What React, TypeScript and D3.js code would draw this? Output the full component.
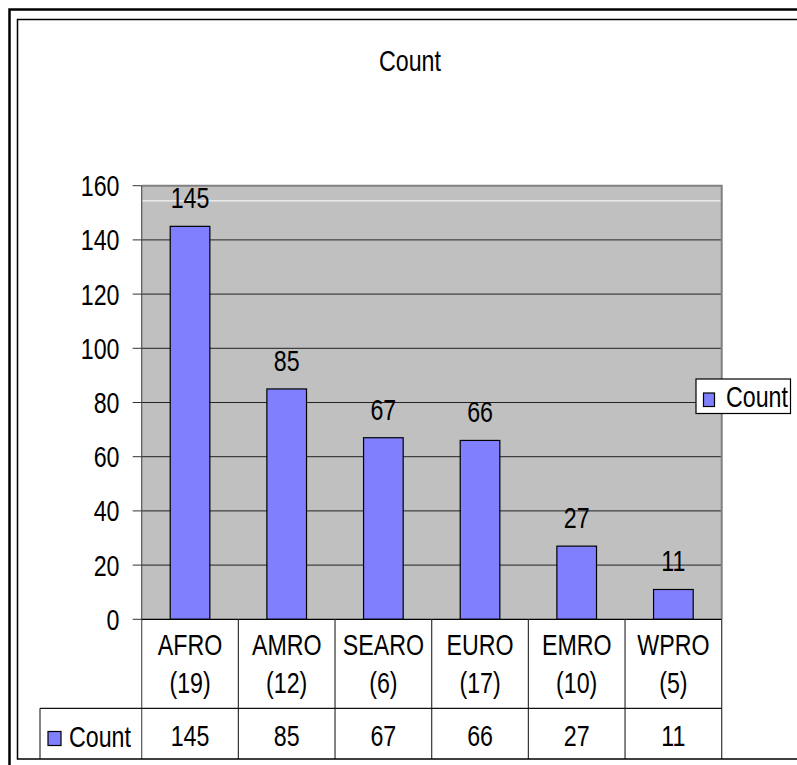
import { useEffect, useRef } from "react"
import * as d3 from "d3"

// data
const categories = ["AFRO", "AMRO", "SEARO", "EURO", "EMRO", "WPRO"]
const memberCounts = ["(19)", "(12)", "(6)", "(17)", "(10)", "(5)"]
const counts = [145, 85, 67, 66, 27, 11]
const yTicks = [0, 20, 40, 60, 80, 100, 120, 140, 160]
const seriesName = "Count"

const FONT = "'Liberation Sans', Arial, sans-serif"
const FS = 29
const SX = 0.8

export default function App() {
  const svgRef = useRef<SVGSVGElement>(null)

  useEffect(() => {
    const svg = d3.select(svgRef.current)
    const width = 797
    const height = 765
    svg.selectAll("*").remove()
    svg.attr("viewBox", `0 0 ${width} ${height}`)

    const plot = { left: 141.7, right: 721.7, top: 185.7, bottom: 619.3 }
    const tableMid = 708.3
    const tableBottom = 759

    const x = d3.scaleBand().domain(categories).range([plot.left, plot.right]).padding(0)
    const y = d3.scaleLinear().domain([0, 160]).range([plot.bottom, plot.top])
    const barW = x.bandwidth() * 0.41

    // narrow-looking text helper
    const label = (
      g: d3.Selection<SVGGElement, unknown, null, undefined>,
      tx: number,
      ty: number,
      str: string,
      anchor = "middle"
    ) =>
      g.append("text")
        .attr("transform", `translate(${tx},${ty}) scale(${SX},1)`)
        .attr("text-anchor", anchor)
        .attr("font-family", FONT)
        .attr("font-size", FS)
        .attr("fill", "#000")
        .text(str)

    svg.append("rect").attr("width", width).attr("height", height).attr("fill", "#fff")

    const root = svg.append("g")

    // title
    label(root, 410, 70.7, seriesName)

    // plot background
    root.append("rect")
      .attr("x", plot.left).attr("y", plot.top)
      .attr("width", plot.right - plot.left).attr("height", plot.bottom - plot.top)
      .attr("fill", "#c0c0c0")

    // gridlines
    root.selectAll("line.grid")
      .data(yTicks.filter(t => t > 0 && t < 160))
      .join("line")
      .attr("x1", plot.left).attr("x2", plot.right)
      .attr("y1", d => y(d)).attr("y2", d => y(d))
      .attr("stroke", "#222").attr("stroke-width", 1)

    // white highlight line near top
    root.append("line")
      .attr("x1", plot.left).attr("x2", plot.right)
      .attr("y1", y(154.4)).attr("y2", y(154.4))
      .attr("stroke", "#fff").attr("stroke-width", 1)

    // plot border top/right
    root.append("path")
      .attr("d", `M${plot.left},${plot.top}H${plot.right}V${plot.bottom}`)
      .attr("fill", "none").attr("stroke", "#808080").attr("stroke-width", 2)

    // bars
    root.selectAll("rect.bar")
      .data(counts)
      .join("rect")
      .attr("x", (d, i) => x(categories[i])! + (x.bandwidth() - barW) / 2)
      .attr("y", d => y(d))
      .attr("width", barW)
      .attr("height", d => y(0) - y(d))
      .attr("fill", "#8080ff")
      .attr("stroke", "#000").attr("stroke-width", 1.2)

    // value labels
    counts.forEach((d, i) => {
      label(root, x(categories[i])! + x.bandwidth() / 2, y(d) - 18, String(d))
    })

    // y axis
    root.append("line")
      .attr("x1", plot.left).attr("x2", plot.left)
      .attr("y1", plot.top).attr("y2", tableBottom)
      .attr("stroke", "#555").attr("stroke-width", 1.2)
    yTicks.forEach(t => {
      root.append("line")
        .attr("x1", plot.left - 9).attr("x2", plot.left)
        .attr("y1", y(t)).attr("y2", y(t))
        .attr("stroke", "#333").attr("stroke-width", 1)
      label(root, 119.5, y(t) + 10.5, String(t), "end")
    })

    // zero line
    root.append("line")
      .attr("x1", plot.left).attr("x2", plot.right)
      .attr("y1", y(0)).attr("y2", y(0))
      .attr("stroke", "#000").attr("stroke-width", 1.2)

    // data table
    const bounds = categories.map(c => x(c)!).concat([plot.right])
    bounds.slice(1).forEach(bx => {
      root.append("line")
        .attr("x1", bx).attr("x2", bx)
        .attr("y1", plot.bottom).attr("y2", tableBottom)
        .attr("stroke", "#333").attr("stroke-width", 1.2)
    })
    root.append("line")
      .attr("x1", 40).attr("x2", plot.right)
      .attr("y1", tableMid).attr("y2", tableMid)
      .attr("stroke", "#111").attr("stroke-width", 1.2)
    root.append("line")
      .attr("x1", 40).attr("x2", 40)
      .attr("y1", tableMid).attr("y2", tableBottom)
      .attr("stroke", "#333").attr("stroke-width", 1.2)

    categories.forEach((c, i) => {
      const cx = x(c)! + x.bandwidth() / 2
      label(root, cx, 655, c)
      label(root, cx, 693, memberCounts[i])
      label(root, cx, 745.5, String(counts[i]))
    })
    root.append("rect")
      .attr("x", 48).attr("y", 731.5).attr("width", 13).attr("height", 14)
      .attr("fill", "#8080ff").attr("stroke", "#000").attr("stroke-width", 1.2)
    label(root, 69, 747, seriesName, "start")

    // legend
    root.append("rect")
      .attr("x", 696).attr("y", 379).attr("width", 94.5).attr("height", 34.5)
      .attr("fill", "#fff").attr("stroke", "#000").attr("stroke-width", 1.2)
    root.append("rect")
      .attr("x", 703.5).attr("y", 393).attr("width", 11).attr("height", 13.5)
      .attr("fill", "#8080ff").attr("stroke", "#000").attr("stroke-width", 1.2)
    label(root, 726, 407.3, seriesName, "start")

    // frames
    root.append("rect")
      .attr("x", 17.5).attr("y", 19.5).attr("width", 800).attr("height", tableBottom - 19.5)
      .attr("fill", "none").attr("stroke", "#000").attr("stroke-width", 1.5)
    root.append("rect")
      .attr("x", 9.5).attr("y", 9.5).attr("width", 800).attr("height", 770)
      .attr("fill", "none").attr("stroke", "#000").attr("stroke-width", 2.5)
  }, [])

  return (
    <svg
      ref={svgRef}
      width={797}
      height={765}
      style={{ position: "absolute", left: 0, top: 0, display: "block" }}
    />
  )
}
